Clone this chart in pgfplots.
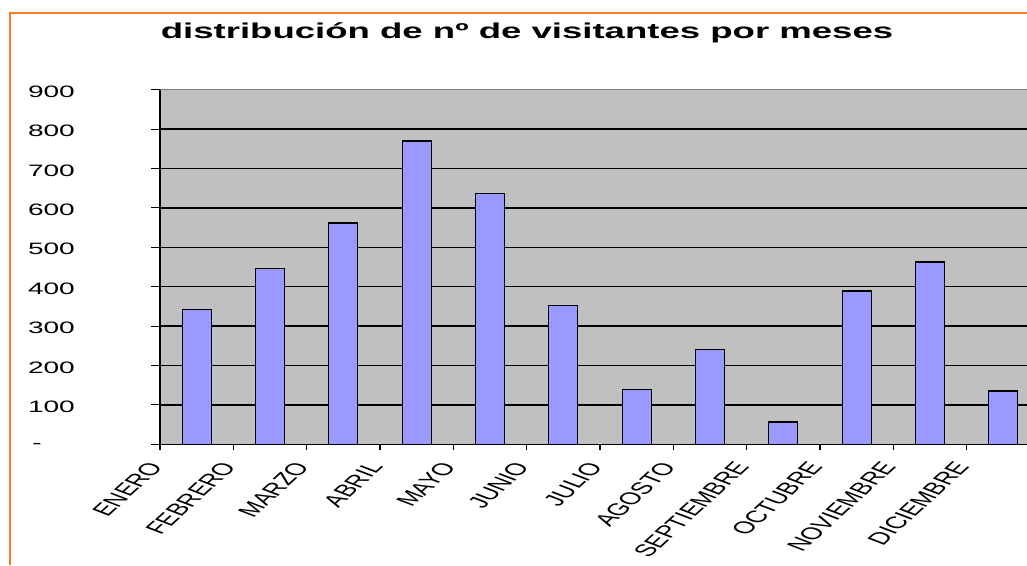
\documentclass[border=0pt]{standalone}
\usepackage{pgfplots}
\pgfplotsset{compat=1.18}
\usepackage{fontspec}
\setmainfont{Liberation Sans}[FakeStretch=1.7]
\newfontfamily\plainsans{Liberation Sans}
\definecolor{barfill}{RGB}{153,153,255}
\definecolor{plotbg}{RGB}{192,192,192}
\definecolor{frameor}{RGB}{255,122,30}
% rotated month label, stretched sideways like the reference
\newcommand{\xl}[1]{\scalebox{1.7}[1]{\rotatebox{57}{\plainsans\fontsize{17}{19}\selectfont #1}}}
\begin{document}
\begin{tikzpicture}
\path[use as bounding box] (0pt,0pt) rectangle (1027pt,-565pt);
\fill[white] (0pt,0pt) rectangle (1027pt,-565pt);
\draw[frameor, line width=2pt] (9.5pt,-565pt) -- (9.5pt,-12.5pt) -- (1027pt,-12.5pt);
\node[anchor=base, font=\fontsize{21.5}{24}\selectfont\bfseries, inner sep=0pt]
  at (527pt,-38pt) {distribución de nº de visitantes por meses};
\begin{axis}[
    at={(160pt,-444.3pt)}, anchor=south west,
    scale only axis, width=880pt, height=354.6pt,
    xmin=0.5, xmax=12.5, ymin=0, ymax=900,
    axis background/.style={fill=plotbg},
    axis x line*=bottom, axis y line*=left,
    axis line style={black, line width=1.3pt, -},
    tick align=outside,
    major tick length=9pt,
    tick style={black, line width=1.1pt},
    xtick={0.5,1.5,...,12.5},
    xtick style={/pgfplots/major tick length=6pt},
    xticklabels={\xl{ENERO},\xl{FEBRERO},\xl{MARZO},\xl{ABRIL},\xl{MAYO},\xl{JUNIO},
      \xl{JULIO},\xl{AGOSTO},\xl{SEPTIEMBRE},\xl{OCTUBRE},\xl{NOVIEMBRE},\xl{DICIEMBRE},{}},
    xticklabel style={anchor=north east, inner sep=0pt, xshift=4pt, yshift=-7pt},
    ytick={0,100,...,900},
    yticklabels={{-\hspace*{33pt}},100,200,300,400,500,600,700,800,900},
    yticklabel style={anchor=east, inner sep=0pt, xshift=-76pt, yshift=-2pt,
      font=\fontsize{16.5}{18}\selectfont},
    ymajorgrids,
    grid style={black, line width=1.3pt},
    ybar, bar width=29pt,
    clip=false,
]
\addplot[fill=barfill, draw=black, line width=1.3pt] coordinates {
  (1,342) (2,447) (3,562) (4,770) (5,636) (6,352)
  (7,139) (8,240) (9,57) (10,389) (11,463) (12,135)};
\draw[gray, line width=1.3pt] (axis cs:0.5,900) -- (axis cs:12.5,900);
\end{axis}
\end{tikzpicture}
\end{document}
